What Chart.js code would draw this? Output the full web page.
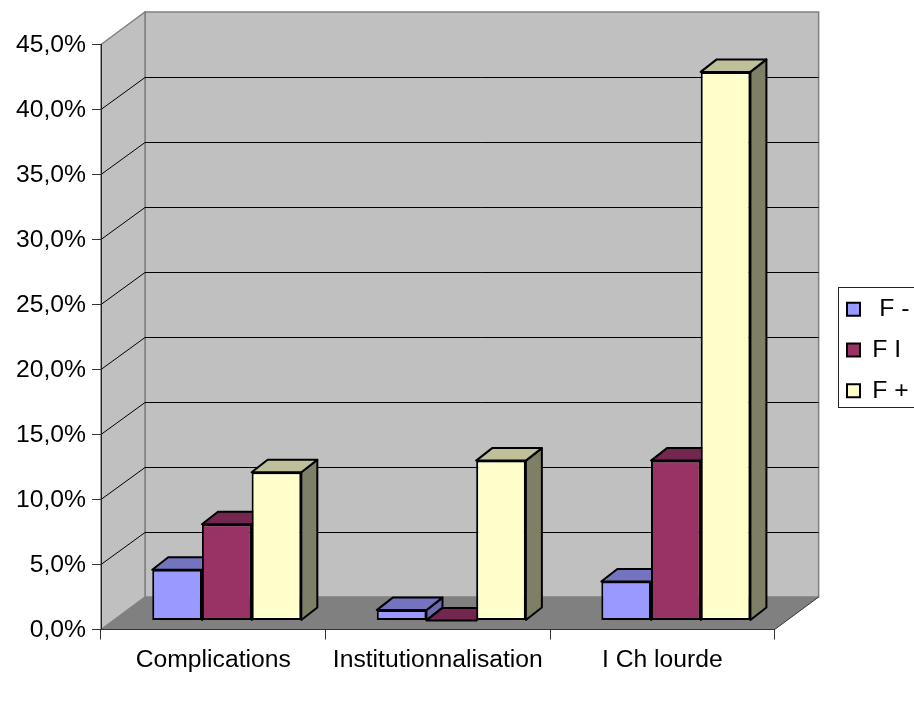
<!DOCTYPE html>
<html>
<head>
<meta charset="utf-8">
<title>Complications</title>
<script src="https://cdn.jsdelivr.net/npm/chart.js@4/dist/chart.umd.min.js"></script>
<style>
    body { margin: 0; background: #fff; }
    canvas { display: block; }
</style>
</head>
<body>
<canvas id="grafico" width="914" height="714"></canvas>
<script>
const categories = ['Complications', 'Institutionnalisation', 'I Ch lourde'];
const seriesNames = [' F -', 'F I', 'F +'];
const fMoins = [3.9, 0.8, 3.0];
const fInter = [7.4, 0, 12.3];
const fPlus = [11.4, 12.3, 42.2];
const yMax = 45;
const yStep = 5;

const frontColors = ['#9999FF', '#993366', '#FFFFCC'];
const topColors = ['#7373BF', '#732650', '#BFBF99'];
const sideColors = ['#6A6AAE', '#5C1F40', '#7F7F66'];

const fontFamily = '"Liberation Sans", Arial, sans-serif';
const fontSize = 24.7;

// depth of the room and of the bars, and where the bars stand on the floor
const wallDx = 44;
const wallDy = 32.5;
const barDx = 16;
const barDy = 12.5;
const floorDx = 13.5;
const floorDy = 9;

function poly(ctx, pts) {
    ctx.beginPath();
    pts.forEach((p, i) => i ? ctx.lineTo(p[0], p[1]) : ctx.moveTo(p[0], p[1]));
    ctx.closePath();
}

const room3d = {
    id: 'room3d',
    beforeDraw(chart) {
        const { ctx, scales: { x, y } } = chart;
        const l = x.left, r = x.right, t = y.getPixelForValue(yMax), b = y.getPixelForValue(0);
        ctx.save();
        ctx.fillStyle = '#C0C0C0';
        ctx.strokeStyle = '#808080';
        ctx.lineWidth = 1.5;
        // back wall
        poly(ctx, [[l + wallDx, t - wallDy], [r + wallDx, t - wallDy], [r + wallDx, b - wallDy], [l + wallDx, b - wallDy]]);
        ctx.fill();
        ctx.stroke();
        // side wall
        poly(ctx, [[l, t], [l + wallDx, t - wallDy], [l + wallDx, b - wallDy], [l, b]]);
        ctx.fill();
        ctx.stroke();
        // floor
        ctx.fillStyle = '#808080';
        poly(ctx, [[l, b], [l + wallDx, b - wallDy], [r + wallDx, b - wallDy], [r, b]]);
        ctx.fill();
        // grid lines go round the two walls
        ctx.strokeStyle = '#000';
        ctx.lineWidth = 1;
        for (let v = yStep; v < yMax; v += yStep) {
            const py = y.getPixelForValue(v);
            const back = Math.floor(py - wallDy) + 0.5;
            ctx.beginPath();
            ctx.moveTo(l, py);
            ctx.lineTo(l + wallDx, back);
            ctx.lineTo(r + wallDx, back);
            ctx.stroke();
        }
        // floor edge on the right side
        ctx.strokeStyle = '#333';
        ctx.beginPath();
        ctx.moveTo(r, b);
        ctx.lineTo(r + wallDx, b - wallDy);
        ctx.stroke();
        ctx.restore();
    },
    afterLayout(chart) {
        // legend sits against the right edge, away from the room
        const lg = chart.legend;
        const w = lg.width, h = lg.height;
        lg.left = 831;
        lg.right = 831 + w;
        lg.top = 281;
        lg.bottom = 281 + h;
    },
    beforeDatasetsDraw(chart) {
        // bars go left to right so that each one hides the side of the previous one
        const { ctx } = chart;
        ctx.save();
        ctx.translate(floorDx, -floorDy);
        chart.getSortedVisibleDatasetMetas().forEach(meta => {
            const i = meta.index;
            ctx.save();
            ctx.lineWidth = 2;
            ctx.lineJoin = 'round';
            ctx.strokeStyle = '#000';
            meta.data.forEach(bar => {
                const a = bar.x - bar.width / 2, c = bar.x + bar.width / 2;
                const top = bar.y, base = bar.base;
                // side face
                ctx.fillStyle = sideColors[i];
                poly(ctx, [[c, top], [c + barDx, top - barDy], [c + barDx, base - barDy], [c, base]]);
                ctx.fill();
                ctx.stroke();
                // top face
                ctx.fillStyle = topColors[i];
                poly(ctx, [[a, top], [a + barDx, top - barDy], [c + barDx, top - barDy], [c, top]]);
                ctx.fill();
                ctx.stroke();
            });
            ctx.restore();
            meta.controller.draw();
        });
        ctx.restore();
        return false;
    },
    afterDraw(chart) {
        // legend frame
        const { ctx } = chart;
        ctx.save();
        ctx.strokeStyle = '#222';
        ctx.lineWidth = 1;
        ctx.strokeRect(838.5, 287.5, 90, 120);
        ctx.restore();
    }
};

const series = [fMoins, fInter, fPlus];

new Chart(document.getElementById('grafico'), {
    type: 'bar',
    data: {
        labels: categories,
        datasets: series.map((vals, i) => ({
            label: seriesNames[i],
            data: vals,
            backgroundColor: frontColors[i],
            borderColor: '#000',
            borderWidth: 2,
            borderSkipped: false,
            categoryPercentage: 0.664,
            barPercentage: 1
        }))
    },
    plugins: [room3d],
    options: {
        responsive: false,
        animation: false,
        layout: { padding: { top: 44.5, right: 51, left: 0, bottom: 0 } },
        plugins: {
            title: { display: false },
            tooltip: { enabled: false },
            legend: {
                position: 'right',
                align: 'start',
                labels: {
                    color: '#000',
                    boxWidth: 13,
                    boxHeight: 13,
                    padding: 16,
                    font: { family: fontFamily, size: fontSize }
                }
            }
        },
        scales: {
            x: {
                grid: { display: true, drawOnChartArea: false, drawTicks: true, tickLength: 10, color: '#333', offset: true },
                border: { display: true, color: '#333', width: 1 },
                ticks: { color: '#000', padding: 6, maxRotation: 0, font: { family: fontFamily, size: fontSize } },
                afterFit(s) { s.height = 84.5; }
            },
            y: {
                min: 0,
                max: yMax,
                grid: { display: true, drawOnChartArea: false, drawTicks: true, tickLength: 9, color: '#333' },
                border: { display: true, color: '#222', width: 1 },
                ticks: {
                    stepSize: yStep,
                    color: '#000',
                    padding: 6,
                    labelOffset: 1,
                    font: { family: fontFamily, size: fontSize },
                    callback: v => v.toFixed(1).replace('.', ',') + '%'
                },
                afterFit(s) { s.width = 101; }
            }
        }
    }
});
</script>
</body>
</html>
